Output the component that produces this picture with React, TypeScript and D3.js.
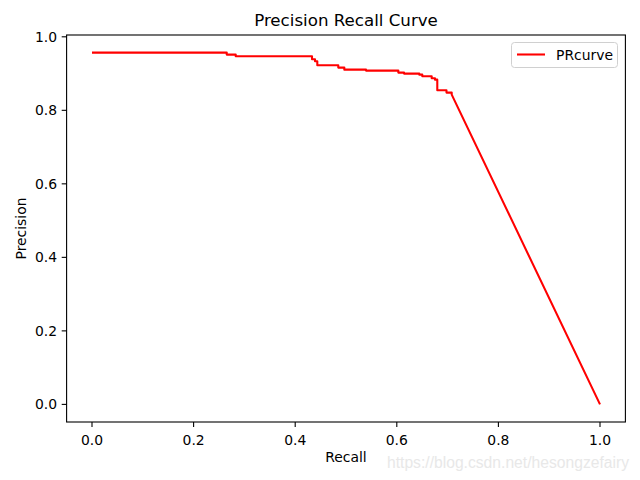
import React from "react";
import * as d3 from "d3";

const recall = [0, 0.2652, 0.2652, 0.2829, 0.2829, 0.4331, 0.4331, 0.439, 0.439, 0.4435, 0.4435, 0.4848, 0.4848, 0.4967, 0.4967, 0.5394, 0.5394, 0.603, 0.603, 0.6142, 0.6142, 0.6443, 0.6443, 0.6502, 0.6502, 0.6687, 0.6687, 0.6752, 0.6752, 0.6797, 0.6797, 0.6978, 0.6978, 0.7081, 0.7081, 1.0];
const precision = [0.957, 0.957, 0.9516, 0.9516, 0.947, 0.947, 0.9388, 0.9388, 0.9333, 0.9333, 0.9224, 0.9224, 0.9162, 0.9162, 0.9107, 0.9107, 0.908, 0.908, 0.9026, 0.9026, 0.8999, 0.8999, 0.8971, 0.8971, 0.8925, 0.8925, 0.8871, 0.8871, 0.8835, 0.8835, 0.8544, 0.8544, 0.8482, 0.8482, 0.8427, 0.0];
const xTicks = [0, 0.2, 0.4, 0.6, 0.8, 1.0];
const yTicks = [0, 0.2, 0.4, 0.6, 0.8, 1.0];

const W = 640, H = 480;
const L = 66.6, R = 625.4, T = 35, B = 422;
const font = "DejaVu Sans, sans-serif";

export default function App() {
  const x = d3.scaleLinear().domain([-0.05, 1.05]).range([L, R]);
  const y = d3.scaleLinear().domain([-0.0479, 1.0049]).range([B, T]);
  const pts: [number, number][] = recall.map((r, i) => [r, precision[i]]);
  const line = d3.line<[number, number]>().x(d => x(d[0])).y(d => y(d[1]));
  return (
    <svg width={W} height={H} style={{ position: "absolute", left: 0, top: 0, background: "#fff" }}>
      <rect x={0} y={0} width={W} height={H} fill="#fff" />
      <text x={(L + R) / 2} y={26} textAnchor="middle" fontFamily={font} fontSize={16.67}>Precision Recall Curve</text>
      <path d={line(pts) || ""} fill="none" stroke="#ff0000" strokeWidth={2.08} strokeLinejoin="round" />
      <rect x={L} y={T} width={R - L} height={B - T} fill="none" stroke="#000" strokeWidth={1.1} />
      {xTicks.map(t => (
        <g key={"x" + t}>
          <line x1={x(t)} x2={x(t)} y1={B} y2={B + 4.9} stroke="#000" strokeWidth={1.1} />
          <text x={x(t)} y={B + 23} textAnchor="middle" fontFamily={font} fontSize={13.9}>{t.toFixed(1)}</text>
        </g>
      ))}
      {yTicks.map(t => (
        <g key={"y" + t}>
          <line x1={L - 4.9} x2={L} y1={y(t)} y2={y(t)} stroke="#000" strokeWidth={1.1} />
          <text x={L - 9.5} y={y(t) + 5} textAnchor="end" fontFamily={font} fontSize={13.9}>{t.toFixed(1)}</text>
        </g>
      ))}
      <text x={(L + R) / 2} y={462} textAnchor="middle" fontFamily={font} fontSize={13.9}>Recall</text>
      <text transform={`translate(26,${(T + B) / 2}) rotate(-90)`} textAnchor="middle" fontFamily={font} fontSize={13.9}>Precision</text>
      <rect x={511.5} y={42.5} width={106} height={25} rx={3} fill="#fff" fillOpacity={0.8} stroke="#d0d0d0" strokeWidth={1} />
      <line x1={517} x2={545} y1={54.5} y2={54.5} stroke="#ff0000" strokeWidth={2.08} />
      <text x={556} y={59.5} fontFamily={font} fontSize={13.9}>PRcurve</text>
      <text x={387} y={468} fontFamily="Liberation Sans Narrow, Liberation Sans, sans-serif" fontSize={16} fill="#e8e8e8" textLength={242} lengthAdjust="spacingAndGlyphs">https://blog.csdn.net/hesongzefairy</text>
    </svg>
  );
}
